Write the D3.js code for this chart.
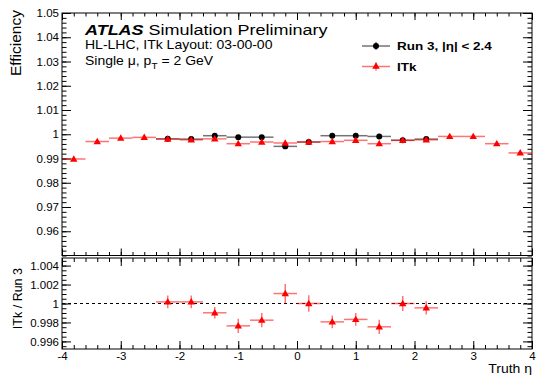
<!DOCTYPE html>
<html><head><meta charset="utf-8">
<script src="https://cdn.jsdelivr.net/npm/d3@7"></script>
<style>
html,body{margin:0;padding:0;background:#fff;}
svg{display:block;font-family:"Liberation Sans",Arial,Helvetica,sans-serif;}
</style></head>
<body>
<svg id="c" width="537" height="375"></svg>
<script>
// ---- data ----
const itkEta = [-3.8,-3.4,-3.0,-2.6,-2.2,-1.8,-1.4,-1.0,-0.6,-0.2,0.2,0.6,1.0,1.4,1.8,2.2,2.6,3.0,3.4,3.8];
const itkEff = [0.9898,0.9970,0.9984,0.9987,0.9980,0.9977,0.9981,0.9961,0.9968,0.9964,0.9968,0.9970,0.9975,0.9961,0.9975,0.9977,0.9991,0.9991,0.9961,0.9923];
const run3Eta = [-2.2,-1.8,-1.4,-1.0,-0.6,-0.2,0.2,0.6,1.0,1.4,1.8,2.2];
const run3Eff = [0.9981,0.9980,0.9994,0.9988,0.9988,0.9950,0.9968,0.9994,0.9994,0.9991,0.9975,0.9980];
const ratioEta = [-2.2,-1.8,-1.4,-1.0,-0.6,-0.2,0.2,0.6,1.0,1.4,1.8,2.2];
const ratioVal = [1.00017,1.00017,0.99902,0.99764,0.99824,1.00105,1.0000,0.99806,0.99832,0.99754,1.0000,0.99954];
const ratioErr = [0.00067,0.00067,0.0006,0.00074,0.00075,0.001,0.00088,0.00068,0.00067,0.00075,0.00079,0.0007];
const binHalfWidth = 0.2;
const xTicks = [-4,-3,-2,-1,0,1,2,3,4];
const xTickLabels = ["-4","-3","-2","-1","0","1","2","3","4"];
const yTopTicks = [0.96,0.97,0.98,0.99,1.0,1.01,1.02,1.03,1.04,1.05];
const yTopTickLabels = ["0.96","0.97","0.98","0.99","1","1.01","1.02","1.03","1.04","1.05"];
const yBotTicks = [0.996,0.998,1.0,1.002,1.004];
const yBotTickLabels = ["0.996","0.998","1","1.002","1.004"];

// ---- layout ----
const L = 62, R = 532;
const topT = 13, topB = 255.5;
const botT = 258, botB = 349;
const svg = d3.select("#c");
const x = d3.scaleLinear().domain([-4,4]).range([L,R]);
const yT = d3.scaleLinear().domain([0.95,1.05]).range([topB,topT]);
const yB = d3.scaleLinear().domain([0.9952,1.0048]).range([botB,botT]);

const fs = 11.5;
const xMinor = d3.range(-4,4.001,0.2).map(v=>+v.toFixed(2));
const yTMinor = d3.range(0.95,1.0501,0.002).map(v=>+v.toFixed(4));
const yBMinor = d3.range(0.9955,1.0048,0.0005).map(v=>+v.toFixed(5));

function styleAxis(g){
  g.select(".domain").remove();
  g.selectAll("line").attr("stroke","#000").attr("stroke-width",1);
  g.selectAll("text").attr("font-size",fs).attr("fill","#000").attr("font-family","Liberation Sans, Arial, sans-serif");
}
function lbl(ticks, labels){ return d=>labels[ticks.indexOf(d)] ?? ""; }

function panelAxes(yScale, top, bottom, yTicks, yLabels, yMinor, showXLabels, xMaj, xMin, yMaj, yMin){
  svg.append("g").attr("transform",`translate(${L},0)`)
    .call(d3.axisLeft(yScale).tickValues(yTicks).tickFormat(lbl(yTicks,yLabels)).tickSize(-yMaj).tickPadding(3)).call(styleAxis);
  svg.append("g").attr("transform",`translate(${L},0)`)
    .call(d3.axisLeft(yScale).tickValues(yMinor).tickFormat("").tickSize(-yMin)).call(styleAxis);
  svg.append("g").attr("transform",`translate(${R},0)`)
    .call(d3.axisRight(yScale).tickValues(yTicks).tickFormat("").tickSize(-yMaj)).call(styleAxis);
  svg.append("g").attr("transform",`translate(${R},0)`)
    .call(d3.axisRight(yScale).tickValues(yMinor).tickFormat("").tickSize(-yMin)).call(styleAxis);
  svg.append("g").attr("transform",`translate(0,${top})`)
    .call(d3.axisTop(x).tickValues(xTicks).tickFormat("").tickSize(-xMaj)).call(styleAxis);
  svg.append("g").attr("transform",`translate(0,${top})`)
    .call(d3.axisTop(x).tickValues(xMinor).tickFormat("").tickSize(-xMin)).call(styleAxis);
  svg.append("g").attr("transform",`translate(0,${bottom})`)
    .call(d3.axisBottom(x).tickValues(xTicks).tickFormat(showXLabels?lbl(xTicks,xTickLabels):"").tickSize(-xMaj).tickPadding(2.5)).call(styleAxis);
  svg.append("g").attr("transform",`translate(0,${bottom})`)
    .call(d3.axisBottom(x).tickValues(xMinor).tickFormat("").tickSize(-xMin)).call(styleAxis);
  svg.append("rect").attr("x",L).attr("y",top).attr("width",R-L).attr("height",bottom-top)
    .attr("fill","none").attr("stroke","#000").attr("stroke-width",1);
}

panelAxes(yT, topT, topB, yTopTicks, yTopTickLabels, yTMinor, false, 7, 3.5, 9, 4.5);
panelAxes(yB, botT, botB, yBotTicks, yBotTickLabels, yBMinor, true, 8, 4, 9, 4.5);

// dashed line at 1 in ratio
svg.append("line").attr("x1",x(-4)).attr("x2",x(4)).attr("y1",yB(1)).attr("y2",yB(1))
  .attr("stroke","#000").attr("stroke-width",1).attr("stroke-dasharray","3,3");

const tri = d3.symbol().type(d3.symbolTriangle).size(24);
const circ = d3.symbol().type(d3.symbolCircle).size(28);

// Run 3 (black)
const gR3 = svg.append("g");
run3Eta.forEach((e,i)=>{
  gR3.append("line").attr("x1",x(e-binHalfWidth)).attr("x2",x(e+binHalfWidth))
    .attr("y1",yT(run3Eff[i])).attr("y2",yT(run3Eff[i]))
    .attr("stroke","#000").attr("stroke-opacity",0.55).attr("stroke-width",1.5);
});
run3Eta.forEach((e,i)=>{
  gR3.append("path").attr("d",circ).attr("transform",`translate(${x(e)},${yT(run3Eff[i])})`).attr("fill","#000");
});
// ITk (red)
const gI = svg.append("g");
itkEta.forEach((e,i)=>{
  gI.append("line").attr("x1",x(e-binHalfWidth)).attr("x2",x(e+binHalfWidth))
    .attr("y1",yT(itkEff[i])).attr("y2",yT(itkEff[i]))
    .attr("stroke","#f00").attr("stroke-opacity",0.55).attr("stroke-width",1.5);
});
itkEta.forEach((e,i)=>{
  gI.append("path").attr("d",tri).attr("transform",`translate(${x(e)},${yT(itkEff[i])+0.5})`).attr("fill","#f00");
});

// ratio
const gRa = svg.append("g");
ratioEta.forEach((e,i)=>{
  gRa.append("line").attr("x1",x(e-binHalfWidth)).attr("x2",x(e+binHalfWidth))
    .attr("y1",yB(ratioVal[i])).attr("y2",yB(ratioVal[i]))
    .attr("stroke","#f00").attr("stroke-opacity",0.55).attr("stroke-width",1.5);
  gRa.append("line").attr("x1",x(e)).attr("x2",x(e))
    .attr("y1",yB(ratioVal[i]-ratioErr[i])).attr("y2",yB(ratioVal[i]+ratioErr[i]))
    .attr("stroke","#f00").attr("stroke-opacity",0.55).attr("stroke-width",1.5);
});
ratioEta.forEach((e,i)=>{
  gRa.append("path").attr("d",tri).attr("transform",`translate(${x(e)},${yB(ratioVal[i])+0.5})`).attr("fill","#f00");
});

// texts (slightly compressed vertically like the reference)
const sq = 0.85;
function txt(px, py, size){
  return svg.append("g").attr("transform",`translate(${px},${py}) scale(1,${sq})`)
    .append("text").attr("x",0).attr("y",0).attr("font-size",size);
}
const t1 = txt(85, 34.8, 18);
t1.append("tspan").attr("font-weight","bold").attr("font-style","italic").text("ATLAS");
t1.append("tspan").text(" Simulation Preliminary");
txt(85, 48.8, 14).text("HL-LHC, ITk Layout: 03-00-00");
const t3 = txt(85, 64.5, 14);
t3.append("tspan").text("Single μ, p");
t3.append("tspan").attr("font-size",10).attr("dy",5.5).text("T");
t3.append("tspan").attr("dy",-5.5).text(" = 2 GeV");

// legend
const legend = [{label:"Run 3, |η| < 2.4", color:"#000", y:46, shape:circ},{label:"ITk", color:"#f00", y:66.5, shape:tri}];
legend.forEach(d=>{
  svg.append("line").attr("x1",362).attr("x2",390).attr("y1",d.y).attr("y2",d.y)
    .attr("stroke",d.color).attr("stroke-opacity",0.55).attr("stroke-width",1.5);
  svg.append("line").attr("x1",376).attr("x2",376).attr("y1",d.y-4).attr("y2",d.y+4)
    .attr("stroke",d.color).attr("stroke-opacity",0.55).attr("stroke-width",1.5);
  svg.append("path").attr("d",d.shape).attr("transform",`translate(376,${d.y})`).attr("fill",d.color);
  txt(397, d.y+4.3, 13.5).attr("font-weight","bold").text(d.label);
});

// axis titles
svg.append("text").attr("transform","translate(21,10) rotate(-90)").attr("text-anchor","end")
  .attr("font-size",15.5).text("Efficiency");
svg.append("text").attr("transform","translate(21.5,268) rotate(-90)").attr("text-anchor","end")
  .attr("font-size",12.5).text("ITk / Run 3");
txt(532, 372.5, 14).attr("text-anchor","end").text("Truth η");
</script>
</body></html>
